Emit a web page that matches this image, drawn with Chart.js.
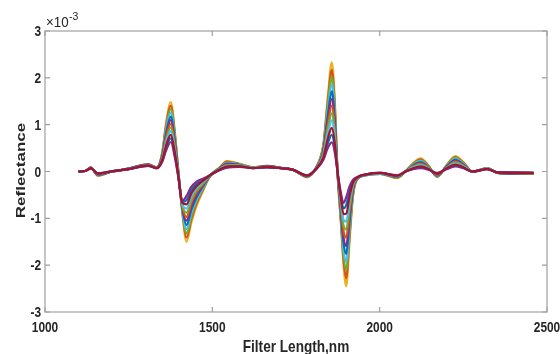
<!DOCTYPE html>
<html lang="en">
<head>
  <meta charset="UTF-8">
  <title>Reflectance spectra</title>
  <script src="https://cdn.jsdelivr.net/npm/chart.js"></script>
  <style>
    html, body { margin: 0; padding: 0; background: #fff; }
    #chart { display: block; }
  </style>
</head>
<body>
  <canvas id="chart" width="560" height="354"></canvas>

  <script>
    // wavelengths (nm) and tick values
    const wavelength = [1100,1120,1137,1158,1195,1250,1308,1334,1350,1362,1376,1388,1398,1410,1423,1437,1452,1470,1493,1520,
                        1544,1580,1622,1663,1704,1740,1783,1812,1832,1845,1857,1866,1874,1884,1892,1900,1910,1920,1932,1960,
                        2002,2052,2077,2100,2122,2145,2172,2200,2226,2250,2277,2322,2352,2400,2460];
    const xTicks = [1000, 1500, 2000, 2500];
    const yTicks = [-3, -2, -1, 0, 1, 2, 3];

    // reflectance (x 10^-3), one array per sample, smallest amplitude first
    const spec01 = [0,.01,.06,-.04,0,.05,.12,.07,.20,.45, .63,.30,-.10,-.63,-.52,-.33,-.22,-.16,-.08,.02, .08,.10,.07,.09,.07,.04,-.08,.06,.25,.50, .62,.40,0,-.45,-.67,-.55,-.32,-.18,-.12,-.06, -.03,-.08,0,.05,.07,.04,-.03,.05,.11,.07, 0,.05,-.02,-.02,-.03];
    const spec02 = [0,.01,.06,-.04,0,.05,.12,.07,.22,.50, .71,.35,-.09,-.65,-.61,-.40,-.27,-.19,-.08,.03, .09,.11,.07,.09,.07,.04,-.08,.07,.28,.60, .78,.50,0,-.51,-.79,-.72,-.43,-.21,-.13,-.06, -.03,-.09,0,.06,.09,.05,-.04,.06,.13,.08, 0,.05,-.02,-.02,-.03];
    const spec03 = [0,.01,.07,-.05,0,.05,.13,.07,.24,.56, .78,.40,-.07,-.67,-.70,-.47,-.32,-.21,-.08,.03, .11,.11,.07,.10,.07,.04,-.09,.07,.31,.70, .93,.60,0,-.57,-.91,-.90,-.53,-.25,-.13,-.06, -.03,-.09,0,.07,.11,.06,-.05,.07,.15,.09, 0,.05,-.02,-.03,-.03];
    const spec04 = [0,.01,.07,-.05,0,.05,.13,.08,.25,.61, .86,.45,-.06,-.69,-.79,-.54,-.36,-.24,-.09,.04, .12,.12,.08,.10,.07,.04,-.09,.08,.34,.80, 1.09,.70,0,-.63,-1.03,-1.07,-.64,-.28,-.14,-.07, -.04,-.10,0,.09,.13,.07,-.05,.07,.17,.11, 0,.06,-.02,-.03,-.03];
    const spec05 = [0,.01,.07,-.06,0,.05,.13,.08,.27,.67, .94,.50,-.05,-.71,-.88,-.61,-.41,-.27,-.09,.04, .13,.13,.08,.10,.07,.04,-.09,.08,.38,.90, 1.24,.80,0,-.69,-1.15,-1.24,-.75,-.31,-.14,-.07, -.04,-.10,0,.10,.15,.08,-.06,.08,.19,.12, 0,.06,-.02,-.03,-.04];
    const spec06 = [0,.01,.07,-.06,-.01,.05,.14,.08,.29,.72, 1.02,.55,-.03,-.73,-.97,-.68,-.46,-.29,-.09,.05, .14,.13,.08,.10,.07,.04,-.10,.09,.41,1.00, 1.40,.90,0,-.75,-1.27,-1.41,-.86,-.35,-.15,-.07, -.04,-.11,0,.11,.17,.09,-.07,.09,.21,.13, 0,.06,-.02,-.03,-.04];
    const spec07 = [0,.01,.08,-.07,-.01,.06,.14,.08,.31,.78, 1.10,.60,-.02,-.75,-1.05,-.75,-.51,-.32,-.09,.05, .16,.14,.08,.11,.08,.04,-.10,.09,.44,1.10, 1.55,1.00,0,-.80,-1.40,-1.59,-.96,-.38,-.15,-.07, -.04,-.11,0,.12,.18,.09,-.08,.10,.23,.14, 0,.06,-.03,-.04,-.04];
    const spec08 = [0,.01,.08,-.07,-.01,.06,.15,.08,.33,.83, 1.17,.65,-.01,-.77,-1.14,-.82,-.56,-.34,-.09,.06, .17,.14,.08,.11,.08,.04,-.10,.10,.47,1.20, 1.71,1.10,0,-.86,-1.52,-1.76,-1.07,-.42,-.16,-.07, -.04,-.12,0,.13,.20,.10,-.09,.11,.25,.15, 0,.06,-.03,-.04,-.04];
    const spec09 = [0,.01,.08,-.08,-.01,.06,.15,.09,.35,.89, 1.25,.70,.01,-.79,-1.23,-.89,-.61,-.37,-.09,.06, .18,.15,.08,.11,.08,.04,-.11,.10,.51,1.30, 1.86,1.20,0,-.92,-1.64,-1.93,-1.18,-.45,-.16,-.08, -.05,-.12,0,.14,.22,.11,-.10,.12,.27,.16, 0,.06,-.03,-.04,-.04];
    const spec10 = [0,.01,.08,-.08,-.01,.06,.15,.09,.36,.94, 1.33,.75,.02,-.81,-1.32,-.96,-.65,-.40,-.10,.07, .19,.16,.09,.11,.08,.04,-.11,.11,.54,1.40, 2.02,1.30,0,-.98,-1.76,-2.10,-1.29,-.48,-.17,-.08, -.05,-.13,0,.16,.24,.12,-.10,.12,.29,.18, 0,.07,-.03,-.04,-.05];
    const spec11 = [0,.01,.09,-.09,-.01,.06,.16,.09,.38,1.00, 1.40,.80,.04,-.83,-1.41,-1.03,-.70,-.42,-.10,.07, .21,.16,.09,.12,.08,.04,-.12,.11,.57,1.50, 2.17,1.40,0,-1.04,-1.88,-2.28,-1.39,-.52,-.17,-.08, -.05,-.13,0,.17,.26,.13,-.11,.13,.31,.19, 0,.07,-.03,-.05,-.05];
    const spec12 = [0,.01,.09,-.09,-.01,.06,.16,.09,.40,1.05, 1.48,.85,.05,-.85,-1.50,-1.10,-.75,-.45,-.10,.08, .22,.17,.09,.12,.08,.04,-.12,.12,.60,1.60, 2.33,1.50,0,-1.10,-2.00,-2.45,-1.50,-.55,-.18,-.08, -.05,-.14,0,.18,.28,.14,-.12,.14,.33,.20, 0,.07,-.03,-.05,-.05];

    const spectra = [spec01, spec02, spec03, spec04, spec05, spec06, spec07, spec08, spec09, spec10, spec11, spec12];
    // matlab default line colours
    const lineColors = ['#7E2F8E','#0072BD','#A2142F','#4DBEEE','#77AC30','#D95319',
                        '#7E2F8E','#0072BD','#4DBEEE','#77AC30','#D95319','#EDB120'];

    const fontFamily = "'Liberation Sans', Arial, sans-serif";
    const textColor = '#262626';

    // squeezed text, the figure was exported narrower than it is tall
    function squeezed(ctx, text, x, y, font, sx, align) {
      ctx.save();
      ctx.translate(x, y);
      ctx.scale(sx, 1);
      ctx.font = font;
      ctx.textAlign = align;
      ctx.textBaseline = 'alphabetic';
      ctx.fillText(text, 0, 0);
      ctx.restore();
    }

    // axis box, inward tick marks, tick labels, axis titles and the exponent label
    const framePlugin = {
      id: 'frame',
      afterDraw(chart) {
        const { ctx, chartArea: a, scales: { x, y } } = chart;
        ctx.save();
        ctx.strokeStyle = '#a0a0a0';
        ctx.lineWidth = 1.2;
        ctx.strokeRect(a.left, a.top, a.right - a.left, a.bottom - a.top);
        ctx.beginPath();
        yTicks.forEach(v => {
          const py = y.getPixelForValue(v);
          ctx.moveTo(a.left, py); ctx.lineTo(a.left + 5, py);
          ctx.moveTo(a.right, py); ctx.lineTo(a.right - 5, py);
        });
        xTicks.forEach(v => {
          const px = x.getPixelForValue(v);
          ctx.moveTo(px, a.bottom); ctx.lineTo(px, a.bottom - 5);
          ctx.moveTo(px, a.top); ctx.lineTo(px, a.top + 5);
        });
        ctx.stroke();

        ctx.fillStyle = textColor;
        const tickFont = 'bold 14px ' + fontFamily;
        xTicks.forEach(v => squeezed(ctx, String(v), x.getPixelForValue(v), a.bottom + 20, tickFont, 0.85, 'center'));
        yTicks.forEach(v => squeezed(ctx, String(v), a.left - 4, y.getPixelForValue(v) + 5, tickFont, 0.85, 'right'));

        squeezed(ctx, 'Filter Length,nm', (a.left + a.right) / 2, 352, 'bold 17px ' + fontFamily, 0.8, 'center');

        // y title, rotated
        ctx.save();
        ctx.translate(25, (a.top + a.bottom) / 2 - 1);
        ctx.scale(0.75, 1);
        ctx.rotate(-Math.PI / 2);
        ctx.font = 'bold 17px ' + fontFamily;
        ctx.textAlign = 'center';
        ctx.textBaseline = 'alphabetic';
        ctx.fillText('Reflectance', 0, 0);
        ctx.restore();

        // x10^-3
        squeezed(ctx, '\u00d710', a.left + 1, 27, '14px ' + fontFamily, 0.95, 'left');
        squeezed(ctx, '-3', a.left + 24, 20, '11px ' + fontFamily, 0.95, 'left');
        ctx.restore();
      }
    };

    const datasets = spectra.map((s, i) => ({
      data: wavelength.map((w, j) => ({ x: w, y: s[j] })),
      borderColor: lineColors[i],
      order: lineColors[i] === '#A2142F' ? 0 : 1
    }));

    new Chart(document.getElementById('chart'), {
      type: 'line',
      data: { datasets },
      options: {
        responsive: false,
        animation: false,
        devicePixelRatio: 1,
        layout: { padding: { top: 31, right: 13, left: 0, bottom: 0 } },
        plugins: { legend: { display: false }, tooltip: { enabled: false } },
        elements: {
          point: { radius: 0 },
          line: { borderWidth: 2.2, cubicInterpolationMode: 'monotone' }
        },
        scales: {
          x: {
            type: 'linear', min: 1000, max: 2500,
            grid: { display: false, drawTicks: false },
            border: { display: false },
            afterBuildTicks: s => { s.ticks = xTicks.map(v => ({ value: v })); },
            ticks: { display: false },
            afterFit: s => { s.height = 42; s.paddingLeft = 0; s.paddingRight = 0; }
          },
          y: {
            type: 'linear', min: -3, max: 3,
            grid: { display: false, drawTicks: false },
            border: { display: false },
            afterBuildTicks: s => { s.ticks = yTicks.map(v => ({ value: v })); },
            ticks: { display: false },
            afterFit: s => { s.width = 45; s.paddingTop = 0; s.paddingBottom = 0; }
          }
        }
      },
      plugins: [framePlugin]
    });
  </script>
</body>
</html>
